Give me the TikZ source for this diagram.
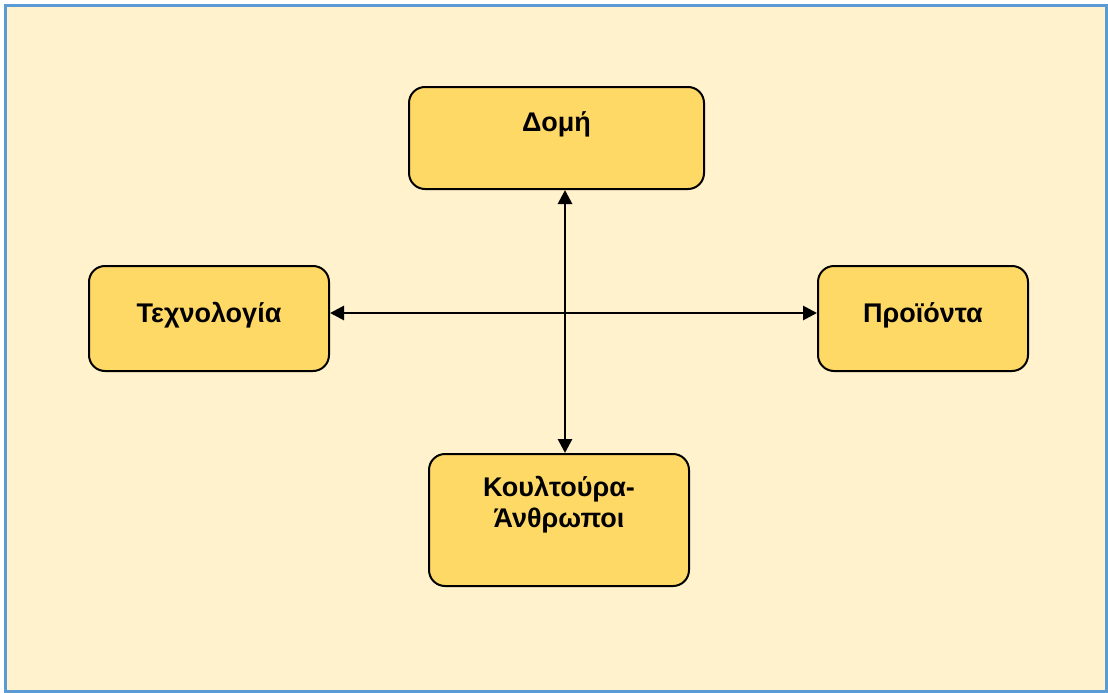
\documentclass[tikz,border=0pt]{standalone}
\usepackage{fontspec}
\setmainfont{Liberation Sans}
\usetikzlibrary{arrows.meta}
\definecolor{pagebg}{HTML}{FFF2CC}
\definecolor{frameblue}{HTML}{5B9BD5}
\definecolor{boxfill}{HTML}{FFD966}
\tikzset{
  box/.style={draw=black, line width=2pt, fill=boxfill, rounded corners=16pt,
    inner sep=0pt},
  lbl/.style={font=\fontsize{27}{31}\selectfont\bfseries, align=center, inner sep=0pt},
  link/.style={line width=2.8pt, {Triangle[length=14pt,width=14pt]}-{Triangle[length=14pt,width=14pt]}}
}
\begin{document}
\begin{tikzpicture}[x=1pt,y=-1pt]
  \useasboundingbox (0,0) rectangle (1108,693);
  % page background and frame
  \draw[frameblue, line width=3pt, fill=pagebg] (5.5,5.5) rectangle (1106.5,691.5);
  % boxes
  \node[box, minimum width=295pt, minimum height=102pt] (dom) at (556.5,138) {};
  \node[box, minimum width=240pt, minimum height=105pt] (tech) at (209,318.5) {};
  \node[box, minimum width=210pt, minimum height=105pt] (prod) at (923,318.5) {};
  \node[box, minimum width=260pt, minimum height=132pt] (kul) at (559,520) {};
  % labels
  \node[lbl] (domt) at (556.5,124) {Δομή};
  \node[lbl] (techt) at (209,315) {Τεχνολογία};
  \node[lbl] (prodt) at (923,315) {Προϊόντα};
  \node[lbl] (kult) at (559,505) {Κουλτούρα-\\Άνθρωποι};
  % connectors
  \coordinate (vx) at (565,0);
  \coordinate (hy) at (0,313);
  \draw[link] (dom.south -| vx) -- (kul.north -| vx);
  \draw[link] (tech.east |- hy) -- (prod.west |- hy);
\end{tikzpicture}
\end{document}
